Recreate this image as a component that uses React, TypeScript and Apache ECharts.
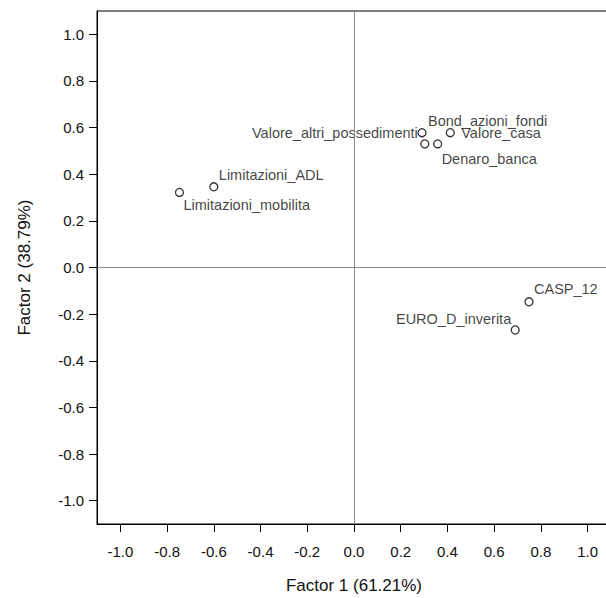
import React, { useEffect, useRef } from "react";
import * as echarts from "echarts";

const variableNames = [
  "Limitazioni_mobilita",
  "Limitazioni_ADL",
  "Bond_azioni_fondi",
  "Valore_altri_possedimenti",
  "Valore_casa",
  "Denaro_banca",
  "CASP_12",
  "EURO_D_inverita",
];
const factor1 = [-0.747, -0.6, 0.291, 0.303, 0.412, 0.358, 0.749, 0.69];
const factor2 = [0.322, 0.346, 0.578, 0.53, 0.578, 0.53, -0.147, -0.268];
const tickValues = [-1.0, -0.8, -0.6, -0.4, -0.2, 0.0, 0.2, 0.4, 0.6, 0.8, 1.0];
const xTitle = "Factor 1 (61.21%)";
const yTitle = "Factor 2 (38.79%)";

// label placement (style only): [dx, dy, align]
const labelPlacement: Record<string, [number, number, string]> = {
  Limitazioni_mobilita: [4, 13, "left"],
  Limitazioni_ADL: [5, -12, "left"],
  Bond_azioni_fondi: [6, -12, "left"],
  Valore_altri_possedimenti: [-7, -11, "right"],
  Valore_casa: [11, 0, "left"],
  Denaro_banca: [4, 15, "left"],
  CASP_12: [5, -13, "left"],
  EURO_D_inverita: [-4, -11, "right"],
};

const FONT = "'Liberation Sans', Arial, Helvetica, sans-serif";

export default function App() {
  const ref = useRef<HTMLDivElement>(null);
  useEffect(() => {
    document.body.style.margin = "0";
    document.body.style.overflow = "hidden";
    const chart = echarts.init(ref.current!, null, { renderer: "svg" });
    const data = variableNames.map((name, i) => {
      const p = labelPlacement[name];
      return {
        name,
        value: [factor1[i], factor2[i]],
        label: {
          show: true,
          position: "inside",
          formatter: name,
          align: p[2],
          verticalAlign: "middle",
          offset: [p[0], p[1]],
          color: "#111",
          fontSize: 14.5,
          fontFamily: FONT,
        },
      };
    });
    const axisCommon = {
      type: "value",
      min: -1.1,
      max: 1.1,
      nameLocation: "middle",
      nameTextStyle: { fontSize: 17, color: "#111", fontFamily: FONT },
      axisLine: { show: true, onZero: false, lineStyle: { color: "#000", width: 1 } },
      axisTick: {
        show: true,
        inside: false,
        length: 8,
        customValues: tickValues,
        lineStyle: { color: "#000", width: 1 },
      },
      axisLabel: {
        show: true,
        customValues: tickValues,
        formatter: (v: number) => v.toFixed(1),
        color: "#111",
        fontSize: 15,
        fontFamily: FONT,
      },
      splitLine: { show: false },
    };
    chart.setOption({
      animation: false,
      backgroundColor: "#fff",
      grid: {
        left: 97,
        right: -5,
        top: 11,
        bottom: 74,
        show: true,
        borderColor: "#000",
        borderWidth: 1,
        containLabel: false,
        outerBoundsMode: "none",
      },
      xAxis: {
        ...axisCommon,
        name: xTitle,
        nameGap: 53,
        axisLabel: { ...axisCommon.axisLabel, margin: 20 },
      },
      yAxis: {
        ...axisCommon,
        name: yTitle,
        nameGap: 64,
        axisLabel: { ...axisCommon.axisLabel, margin: 13 },
      },
      series: [
        {
          type: "scatter",
          symbol: "circle",
          symbolSize: 8,
          itemStyle: { color: "#fff", borderColor: "#000", borderWidth: 1.3 },
          data,
          markLine: {
            silent: true,
            symbol: "none",
            label: { show: false },
            lineStyle: { color: "#8a8a8a", width: 1, type: "solid" },
            data: [{ xAxis: 0 }, { yAxis: 0 }],
          },
          z: 3,
        },
      ],
    });
    return () => chart.dispose();
  }, []);
  return <div ref={ref} style={{ width: 606, height: 598 }} />;
}
